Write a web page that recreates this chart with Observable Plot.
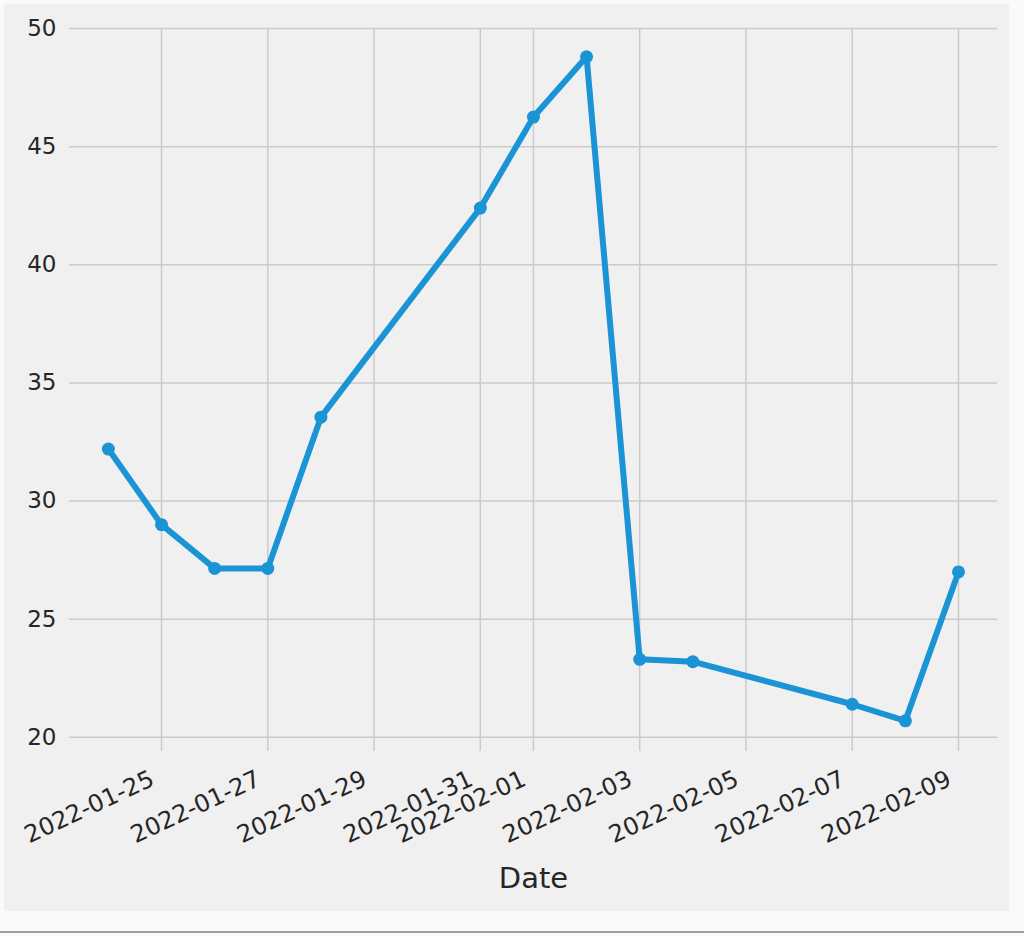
<!DOCTYPE html>
<html>
<head>
<meta charset="utf-8">
<script src="https://cdn.jsdelivr.net/npm/d3@7"></script>
<script src="https://cdn.jsdelivr.net/npm/@observablehq/plot@0.6"></script>
<style>
  html, body { margin: 0; padding: 0; background: #fafafa; }
  #wrap { position: relative; width: 1024px; height: 936px; overflow: hidden; }
  #bg { position: absolute; left: 4px; top: 4px; width: 1005px; height: 907px; background: #f0f0f0; }
  #line { position: absolute; left: 0; top: 931px; width: 1024px; height: 2px; background: #a0a0a0; }
  #chart { position: absolute; left: 0; top: 0; }
  #chart svg g[aria-label="y-axis tick label"] text { font-size: 23px; }
  #chart svg g[aria-label="y-axis tick label"] { font-size: 23px; }
  #chart svg g[aria-label="x-axis tick label"] text { font-size: 24px; }
  #chart svg g[aria-label="x-axis tick label"] { font-size: 24px; }
</style>
</head>
<body>
<div id="wrap"><div id="bg"></div><div id="line"></div><div id="chart"></div></div>
<script>
const dates = ["2022-01-24","2022-01-25","2022-01-26","2022-01-27","2022-01-28","2022-01-31","2022-02-01","2022-02-02","2022-02-03","2022-02-04","2022-02-07","2022-02-08","2022-02-09"];
const values = [32.2, 29.0, 27.15, 27.15, 33.55, 42.4, 46.25, 48.8, 23.3, 23.2, 21.4, 20.7, 27.0];
const xTickLabels = ["2022-01-25","2022-01-27","2022-01-29","2022-01-31","2022-02-01","2022-02-03","2022-02-05","2022-02-07","2022-02-09"];
const yTicks = [20, 25, 30, 35, 40, 45, 50];
const xLabel = "Date";

const data = dates.map((d, i) => ({date: new Date(d + "T00:00:00Z"), value: values[i]}));
const xTicks = xTickLabels.map(d => new Date(d + "T00:00:00Z"));
const fmt = d3.utcFormat("%Y-%m-%d");
const color = "#1a94d5";
const grid = "#cbcbcb";

const chart = Plot.plot({
  width: 1024,
  height: 936,
  marginLeft: 69,
  marginRight: 27,
  marginTop: 28,
  marginBottom: 185,
  style: {background: "transparent", fontFamily: "DejaVu Sans", fontSize: "23px", color: "#262626"},
  x: {type: "utc", domain: [new Date("2022-01-23T06:26:00Z"), new Date("2022-02-09T17:37:00Z")]},
  y: {domain: [19.4, 50]},
  marks: [
    Plot.gridY(yTicks, {stroke: grid, strokeOpacity: 1, strokeWidth: 1.5}),
    Plot.ruleX(xTicks, {stroke: grid, strokeWidth: 1.5}),
    Plot.axisY(yTicks, {tickSize: 0, tickPadding: 13, label: null, fontSize: 23, tickFormat: d => d}),
    Plot.axisX(xTicks, {tickSize: 0, tickRotate: -25, tickPadding: 12, dx: -9, dy: 14, tickFormat: fmt, label: null, fontSize: 24}),
    Plot.line(data, {x: "date", y: "value", stroke: color, strokeWidth: 6}),
    Plot.dot(data, {x: "date", y: "value", fill: color, r: 6.5}),
    Plot.text([xLabel], {frameAnchor: "bottom", dy: 136, text: d => d, fontSize: 29, fill: "#262626"})
  ]
});
document.getElementById("chart").appendChild(chart);
</script>
</body>
</html>
